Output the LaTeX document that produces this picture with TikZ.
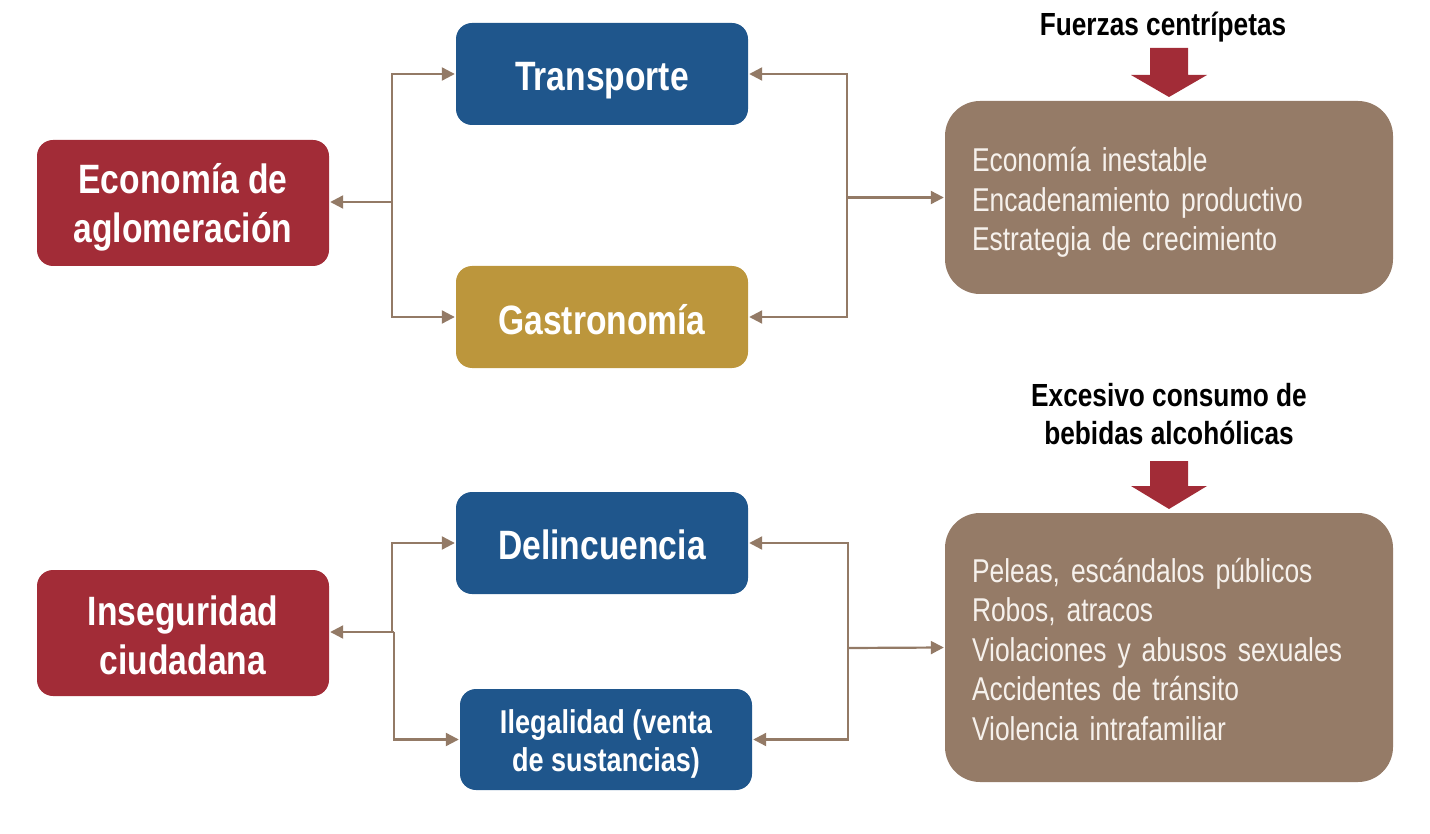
\documentclass[tikz,border=0pt]{standalone}
\usepackage{fontspec}
\setmainfont{Liberation Sans}[FakeStretch=0.82]
\newfontfamily\listfam{Liberation Sans}[FakeStretch=0.80]
\usetikzlibrary{arrows.meta}
\definecolor{cred}{HTML}{A22C37}
\definecolor{cblue}{HTML}{1F568C}
\definecolor{cgold}{HTML}{BC963C}
\definecolor{cbrown}{HTML}{957B67}
\definecolor{cline}{HTML}{937A66}
\definecolor{ctext}{HTML}{F6F1EC}
\begin{document}
\begin{tikzpicture}[x=1pt,y=-1pt,
  lbl/.style={rounded corners=16pt, inner sep=0pt, minimum width=292pt},
  lbltext/.style={text=white, align=center, inner sep=0pt, font=\fontsize{41}{49}\selectfont\bfseries},
  smalltext/.style={lbltext, font=\fontsize{33}{38}\selectfont\bfseries},
  listbox/.style={rounded corners=35pt, fill=cbrown, inner sep=0pt, minimum width=448pt},
  listtext/.style={text=ctext, align=left, text width=394pt, inner sep=0pt, font=\listfam\fontsize{33}{39.5}\selectfont},
  title/.style={align=center, inner sep=0pt, font=\fontsize{32}{38}\selectfont\bfseries},
  conn/.style={draw=cline, line width=2.2pt, -{Triangle[width=13pt,length=13pt]}, shorten >=1pt},
  bigarrow/.style={fill=cred}]
\useasboundingbox (0,0) rectangle (1430,834);
% top group
\node[lbl, fill=cred, minimum height=126pt] (eco) at (183,203) {};
\node[lbltext] (ecot) at (183,207.5) {Economía de\\aglomeración};
\node[lbl, fill=cblue, minimum height=102pt] (trans) at (602,74) {};
\node[lbltext] (transt) at (602,80.5) {Transporte};
\node[lbl, fill=cgold, minimum height=102pt] (gas) at (602,317) {};
\node[lbltext] (gast) at (602,319.5) {Gastronomía};
\node[listbox, minimum height=193pt] (b1) at (1169,197.5) {};
\node[listtext] (b1t) at (1169,202.5) {Economía inestable\\Encadenamiento productivo\\Estrategia de crecimiento};
\node[title] (t1) at (1163,27) {Fuerzas centrípetas};
\fill[bigarrow] (1150,48) -- (1188,48) -- (1188,75) -- (1207,75) -- (1169,97) -- (1131,75) -- (1150,75) -- cycle;
\coordinate (jl) at (392,202);
\coordinate (jr) at (847,197.5);
\draw[conn] (jl) -- (eco.east |- jl);
\draw[conn] (jl) |- (trans.west);
\draw[conn] (jl) |- (gas.west);
\draw[conn] (jr) |- (trans.east);
\draw[conn] (jr) |- (gas.east);
\draw[conn] (jr) -- (b1.west);
% bottom group
\node[lbl, fill=cred, minimum height=126pt] (ins) at (183,633) {};
\node[lbltext] (inst) at (183,635.5) {Inseguridad\\ciudadana};
\node[lbl, fill=cblue, minimum height=102pt] (del) at (602,543) {};
\node[lbltext] (delt) at (602,545) {Delincuencia};
\node[lbl, fill=cblue, minimum height=101pt] (ile) at (606,739.5) {};
\node[smalltext] (ilet) at (606,743.5) {Ilegalidad (venta\\de sustancias)};
\node[listbox, minimum height=269pt] (b2) at (1169,647.5) {};
\node[listtext] (b2t) at (1169,649.5) {Peleas, escándalos públicos\\Robos, atracos\\Violaciones y abusos sexuales\\Accidentes de tránsito\\Violencia intrafamiliar};
\node[title] (t2) at (1169,414) {Excesivo consumo de\\bebidas alcohólicas};
\fill[bigarrow] (1150,461) -- (1188,461) -- (1188,486) -- (1207,486) -- (1169,509) -- (1131,486) -- (1150,486) -- cycle;
\coordinate (jl2) at (392,632);
\coordinate (jl2b) at (394,632);
\coordinate (jr2) at (848,648);
\draw[conn] (jl2) -- (ins.east |- jl2);
\draw[conn] (jl2) |- (del.west);
\draw[draw=cline, line width=2.2pt] (jl2) -- (jl2b);
\draw[conn] (jl2b) |- (ile.west);
\draw[conn] (jr2) |- (del.east);
\draw[conn] (jr2) |- (ile.east);
\draw[conn] (jr2) -- (b2.west);
\end{tikzpicture}
\end{document}
